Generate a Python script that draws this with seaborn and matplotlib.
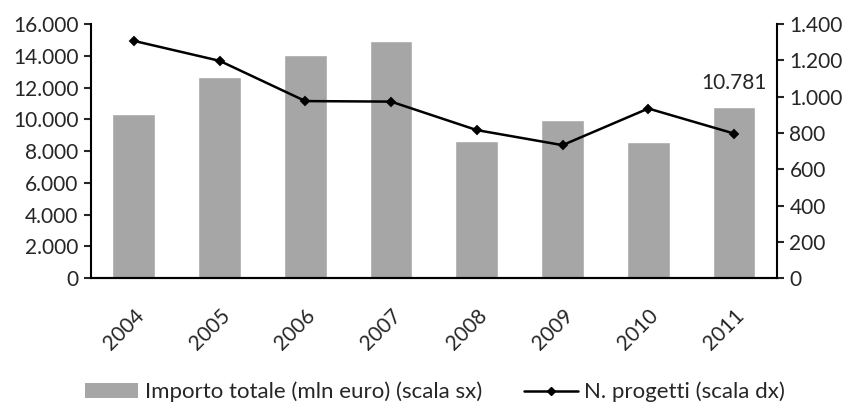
import matplotlib
matplotlib.use('Agg')
import matplotlib.pyplot as plt
import matplotlib.ticker as mticker
from matplotlib.lines import Line2D
from matplotlib.patches import Patch
import seaborn as sns
import pandas as pd

# data
anni = ['2004', '2005', '2006', '2007', '2008', '2009', '2010', '2011']
importo = [10330, 12650, 14060, 14950, 8650, 9950, 8550, 10781]
progetti = [1308, 1198, 976, 973, 816, 733, 935, 797]

df = pd.DataFrame({'anno': anni, 'importo': importo, 'progetti': progetti})

sns.set_style('white')
plt.rcParams['font.family'] = ['Lato', 'DejaVu Sans']
FS = 15

def fmt_it(v, pos=None):
    return '{:,.0f}'.format(v).replace(',', '.')

fig, ax = plt.subplots(figsize=(8.5, 4.03), dpi=100)
fig.subplots_adjust(left=0.107, right=0.914, top=0.940, bottom=0.310)

sns.barplot(data=df, x='anno', y='importo', color='#A6A6A6', saturation=1,
            width=0.5, ax=ax)
ax.set_ylim(0, 16000)
ax.yaxis.set_major_locator(mticker.MultipleLocator(2000))
ax.yaxis.set_major_formatter(mticker.FuncFormatter(fmt_it))

ax2 = ax.twinx()
sns.pointplot(data=df, x='anno', y='progetti', color='black', markers='D',
              markersize=4, linewidth=1.8, ax=ax2)
ax2.set_ylim(0, 1400)
ax2.yaxis.set_major_locator(mticker.MultipleLocator(200))
ax2.yaxis.set_major_formatter(mticker.FuncFormatter(fmt_it))

for a in (ax, ax2):
    a.set_xlim(-0.5, len(anni) - 0.5)
    a.set_xlabel('')
    a.set_ylabel('')
    a.spines['top'].set_visible(False)
    for s in ('left', 'right', 'bottom'):
        a.spines[s].set_linewidth(1.5)
        a.spines[s].set_color('black')

ax.spines['right'].set_visible(False)
ax2.spines['left'].set_visible(False)

ax.tick_params(axis='y', direction='out', length=5, width=1.5, labelsize=FS, pad=4)
ax2.tick_params(axis='y', direction='out', length=5, width=1.5, labelsize=FS, pad=4)

# category boundary ticks on x
ax.set_xticks([i - 0.5 for i in range(len(anni) + 1)], minor=True)
ax.tick_params(axis='x', which='minor', direction='out', length=5, width=1.5)
ax.tick_params(axis='x', which='major', length=0, labelsize=FS, pad=20)
ax.set_xticks(range(len(anni)))
ax.set_xticklabels(anni, rotation=45, ha='right', rotation_mode='anchor')

# data label on last bar
ax.annotate(fmt_it(importo[-1]), (len(anni) - 1, importo[-1]),
            xytext=(0, 10), textcoords='offset points', ha='center', va='bottom',
            fontsize=FS)

handles = [Patch(facecolor='#A6A6A6', edgecolor='none'),
           Line2D([], [], color='black', marker='D', markersize=4, linewidth=1.8)]
fig.legend(handles, ['Importo totale (mln euro) (scala sx)', 'N. progetti (scala dx)'],
           loc='center', bbox_to_anchor=(0.512, 0.027), ncol=2, frameon=False,
           fontsize=16, handlelength=2.4, columnspacing=1.9, handletextpad=0.3,
           borderpad=0, borderaxespad=0)

plt.savefig('out.png', dpi=100)
